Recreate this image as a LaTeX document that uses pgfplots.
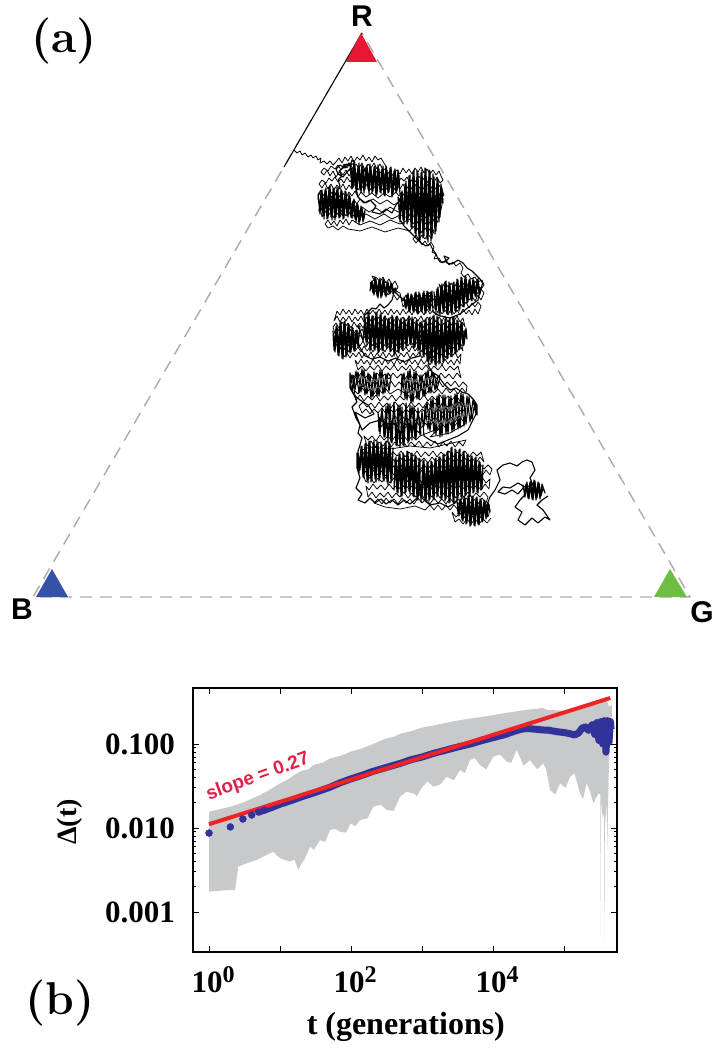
\documentclass[border=0pt]{standalone}
\usepackage{fontspec}
\usepackage{pgfplots}
\pgfplotsset{compat=1.18}
\newfontfamily\timesf{Liberation Serif}
\newfontfamily\arialf{Liberation Sans}
\definecolor{rcol}{RGB}{232,24,52}
\definecolor{bcol}{RGB}{52,82,168}
\definecolor{gcol}{RGB}{110,190,70}
\definecolor{dotblue}{RGB}{50,50,155}
\definecolor{band}{RGB}{200,201,203}
\definecolor{lred}{RGB}{238,36,36}
\definecolor{slopecol}{RGB}{228,30,70}
\definecolor{dashgray}{RGB}{170,170,170}
\begin{document}
\begin{tikzpicture}
\useasboundingbox (0pt,0pt) rectangle (719pt,1050pt);
% ---------------- panel (a) ----------------
\begin{axis}[at={(0pt,0pt)}, anchor=south west, width=719pt, height=1050pt,
  scale only axis, xmin=0, xmax=719, ymin=0, ymax=1050, y dir=reverse,
  hide axis, clip=false]
\addplot[dashgray, line width=1.4pt, dash pattern=on 12pt off 8pt] coordinates {(362,33)(33,597)(690,597)(362,33)};
\addplot[black, line width=1pt] coordinates {(362,33)(284,167)};
% walk, first pass
\addplot[black, line width=0.75pt, line join=round] coordinates {
(294,150)(297,153)(300,151)(302,155)(305,153)(308,157)(311,155)(313,158)(316,156)(318,160)(321,158)(320,163)(324,161)(327,164)(330,161)(333,165)(336,162)
(339,158)(342,163)(345,157)(348,161)(351,156)(354,162)(357,157)(360,160)(363,155)(366,161)(369,157)(372,162)(375,156)(378,160)(381,158)
(384,163)(387,168)(383,170)(380,164)(377,169)(374,163)(371,168)(368,164)(365,170)(362,163)(359,168)(356,164)(353,169)(350,163)(347,168)(344,164)(341,170)(338,165)(335,169)(331,166)(328,171)(324,168)(321,172)
(324,175)(327,170)(330,176)(333,171)(336,177)(340,171)(343,175)(346,170)(349,176)(352,172)(355,177)(358,171)(361,175)(364,170)(367,176)(370,172)(373,177)(376,171)(379,175)(382,170)(385,176)(388,172)(391,177)(394,173)
(397,170)(400,174)(403,168)(406,173)(409,169)(412,174)(415,168)(418,172)(421,167)(424,173)(427,169)(430,174)(433,170)(436,175)(439,171)(441,176)
(443,180)(440,183)(437,177)(434,182)(431,178)(428,183)(425,177)(422,181)(419,176)(416,182)(413,178)(410,183)(407,177)(404,181)(401,178)(398,183)(395,179)(392,183)(389,178)(386,182)(383,177)(380,183)(377,178)(374,182)(371,177)(368,183)(365,178)(362,182)(359,177)(356,183)(353,178)(350,182)(347,177)(344,183)(341,179)(338,182)(335,177)(332,181)(329,178)(326,183)(322,180)(319,184)
(322,188)(325,183)(328,189)(331,184)(334,190)(337,185)(340,189)(343,184)(346,190)(349,185)(352,189)(355,184)(358,190)(361,185)(364,189)(367,184)(370,190)(373,185)(376,189)(379,184)(382,190)(385,186)(388,191)(391,186)(394,190)(397,185)(400,189)(403,184)(406,190)(409,185)(412,189)(415,184)(418,190)(421,185)(424,189)(427,184)(430,190)(433,185)(436,189)(439,185)(442,190)
(444,195)(441,198)(438,192)(435,197)(432,191)(429,196)(426,192)(423,198)(420,193)(417,197)(414,191)(411,196)(408,192)(405,197)(402,192)(399,196)(396,192)(390,197)(384,193)(378,198)(372,193)(366,197)(361,192)(358,197)(355,191)(352,196)(349,192)(346,198)(343,193)(340,197)(337,192)(334,197)(331,192)(328,198)(325,193)(322,197)(319,193)
(318,199)(321,204)(324,198)(327,203)(330,199)(333,205)(336,200)(339,204)(342,198)(345,203)(348,199)(351,205)(354,200)(357,204)(360,199)(366,203)(373,199)(380,204)(387,200)(394,205)(401,200)(404,205)(407,199)(410,204)(413,200)(416,206)(419,201)(422,205)(425,199)(428,204)(431,200)(434,205)(437,200)(440,204)(443,199)
(441,210)(438,205)(435,211)(432,206)(429,210)(426,205)(423,211)(420,206)(417,210)(414,205)(411,211)(408,206)(405,210)(398,212)(390,207)(383,213)(376,208)(369,212)(362,207)(359,212)(356,206)(353,211)(350,205)(347,210)(344,206)(341,212)(338,207)(335,211)(332,205)(329,210)(326,206)(323,212)(320,207)
(322,217)(325,211)(328,216)(331,212)(334,218)(337,213)(340,217)(343,211)(346,216)(349,212)(352,218)(355,213)(358,217)(366,214)(375,219)(384,214)(392,219)(400,215)(408,218)(411,212)(414,217)(417,213)(420,219)(423,214)(426,218)(429,212)(432,217)(435,213)(438,218)(440,214)
(437,223)(434,219)(431,225)(428,220)(425,224)(422,219)(419,225)(416,220)(413,224)(410,219)(400,224)(390,220)(380,225)(370,221)(360,225)(352,220)(349,225)(346,219)(343,224)(340,220)(337,226)(334,221)(331,225)(328,220)(325,224)
(328,228)(333,226)(338,230)(343,226)(348,229)(360,231)(372,227)(385,232)(398,228)(410,231)(413,226)(416,231)(419,227)(422,233)(425,228)(428,232)(431,227)(434,231)
(431,238)(428,234)(425,239)(422,235)(419,240)(416,235)(413,239)(416,243)(419,239)(422,245)(425,241)(428,246)(431,242)
(434,247)(432,252)(436,254)(434,259)(439,258)(442,263)(446,260)(449,265)(453,262)(456,266)(460,263)(463,268)(461,273)(464,277)(468,274)(471,279)(475,277)(478,282)(482,280)(484,285)(481,289)
(478,286)(475,281)(472,287)(469,282)(466,288)(463,283)(460,287)(457,282)(454,288)(451,283)(448,287)(445,282)(442,288)(439,284)
(442,294)(445,289)(448,295)(451,290)(454,294)(457,289)(460,295)(463,290)(466,294)(469,289)(472,295)(475,290)(478,294)(481,289)(484,293)
(481,300)(478,295)(475,301)(472,296)(469,300)(466,295)(463,301)(460,296)(457,300)(454,295)(451,301)(448,296)(445,300)(442,295)(439,301)(436,296)(433,300)(430,295)(427,301)(424,296)(421,300)(418,295)(415,301)(412,296)(409,300)(406,295)(403,301)(400,296)(397,300)(394,295)
(391,291)(388,295)(385,289)(382,294)(379,288)(376,292)(373,287)(370,283)(374,280)(372,276)(377,278)(380,282)(383,277)(386,283)(389,279)(392,285)(395,281)(398,287)(396,291)(400,293)
(403,307)(406,302)(409,308)(412,303)(415,307)(418,302)(421,308)(424,303)(427,307)(430,302)(433,308)(436,303)(439,307)(442,302)(445,308)(448,303)(451,307)(454,302)(457,308)(460,303)(463,307)(466,302)(469,308)(472,303)(475,307)(478,302)(481,306)
(478,314)(475,309)(472,315)(469,310)(466,314)(463,309)(460,315)(457,310)(454,314)(451,309)(448,315)(445,310)(442,314)(439,309)(436,315)(433,310)(430,314)(427,309)(424,315)(421,310)(418,314)(415,309)(412,315)(409,310)(406,314)(403,309)(400,315)(397,310)(394,314)(391,309)(388,315)(385,310)(382,314)(379,309)(376,315)(373,310)(370,314)(367,309)(364,315)(361,310)(358,314)(355,309)(352,315)(349,310)(346,314)(343,309)(340,315)(337,311)
(334,321)(337,316)(340,322)(343,317)(346,321)(349,316)(352,322)(355,317)(358,321)(361,316)(364,322)(367,317)(370,321)(373,316)(376,322)(379,317)(382,321)(385,316)(388,322)(391,317)(394,321)(397,316)(400,322)(403,317)(406,321)(409,316)(412,322)(415,317)(418,321)(421,316)(424,322)(427,317)(430,321)(433,316)(436,322)(439,317)(442,321)(445,316)(448,322)(451,317)(454,321)(457,316)(460,322)(463,318)
(465,327)(462,322)(459,328)(456,323)(453,327)(450,322)(447,328)(444,323)(441,327)(438,322)(435,328)(432,323)(429,327)(426,322)(423,328)(420,323)(417,327)(414,322)(411,328)(408,323)(405,327)(402,322)(399,328)(396,323)(393,327)(390,322)(387,328)(384,323)(381,327)(378,322)(375,328)(372,323)(369,327)(366,322)(363,328)(360,323)(357,327)(354,322)(351,328)(348,323)(345,327)(342,322)(339,328)(336,323)(333,327)
(335,334)(338,329)(341,335)(344,330)(347,334)(350,329)(353,335)(356,330)(359,334)(362,329)(365,335)(368,330)(371,334)(374,329)(377,335)(380,330)(383,334)(386,329)(389,335)(392,330)(395,334)(398,329)(401,335)(404,330)(407,334)(410,329)(413,335)(416,330)(419,334)(422,329)(425,335)(428,330)(431,334)(434,329)(437,335)(440,330)(443,334)(446,329)(449,335)(452,330)(455,334)(458,329)(461,335)(464,331)
(465,339)(462,334)(459,340)(456,335)(453,339)(450,334)(447,340)(444,335)(441,339)(438,334)(435,340)(432,335)(429,339)(426,334)(423,340)(420,335)(417,339)(414,334)(411,340)(408,335)(405,339)(402,334)(399,340)(396,335)(393,339)(390,334)(387,340)(384,335)(381,339)(378,334)(375,340)(372,335)(369,339)(366,334)(363,340)(360,335)(357,339)(354,334)(351,340)(348,335)(345,339)(342,334)(339,340)(336,335)(333,339)
(336,346)(339,341)(342,347)(345,342)(348,346)(351,341)(354,347)(357,342)(360,346)(363,341)(366,347)(369,342)(372,346)(375,341)(378,347)(381,342)(384,346)(387,341)(390,347)(393,342)(396,346)(399,341)(402,347)(405,342)(408,346)(411,341)(414,347)(417,342)(420,346)(423,341)(426,347)(429,342)(432,346)(435,341)(438,347)(441,342)(444,346)(447,341)(450,347)(453,342)(456,346)(459,341)(462,346)
(463,351)(460,346)(457,352)(454,347)(451,351)(448,346)(445,352)(442,347)(439,351)(436,346)(433,352)(430,347)(427,351)(424,346)(421,352)(418,347)(415,351)(412,346)(409,352)(406,347)(403,351)(400,346)(397,352)(394,347)(391,351)(388,346)(385,352)(382,347)(379,351)(376,346)(373,352)(370,347)(367,351)(364,346)(361,352)(358,347)(355,351)(352,346)(349,352)(346,347)(343,351)(340,347)
(344,357)(347,353)(350,358)(353,353)(356,357)(359,352)(362,358)(365,353)(368,357)(371,352)(374,358)(377,353)(380,357)(383,352)(386,358)(389,353)(392,357)(395,352)(398,358)(401,353)(404,357)(407,352)(410,358)(413,353)(416,357)(419,352)(422,358)(425,353)(428,357)(431,352)(434,358)(437,353)(440,357)(443,352)(446,358)(449,353)(452,357)(455,352)(458,358)(461,354)
(460,364)(457,359)(454,365)(451,360)(448,364)(445,359)(442,365)(439,360)(436,364)(433,359)(430,365)(427,360)(424,364)(421,359)(418,365)(415,360)(412,364)(409,359)(406,365)(403,360)(400,364)(397,359)(394,365)(391,360)(388,364)(385,359)(382,365)(379,360)(376,364)(373,359)(370,365)(367,360)(364,364)(361,359)(358,364)(355,360)
(358,370)(362,366)(366,371)(370,366)(374,370)(378,365)(382,371)(386,366)(390,370)(394,365)(398,371)(402,366)(406,370)(410,365)(414,371)(418,366)(422,370)(426,365)(430,371)(434,366)(438,370)(442,365)(446,371)(450,366)(454,370)(458,366)
(461,378)(457,373)(453,379)(449,374)(445,378)(441,373)(437,379)(433,374)(429,378)(425,373)(421,379)(417,374)(413,378)(409,373)(405,379)(401,374)(397,378)(393,373)(389,379)(385,374)(381,378)(377,373)(373,379)(369,374)(365,378)(361,373)(357,379)(353,375)
(355,386)(359,381)(363,387)(367,382)(371,386)(375,381)(379,387)(383,382)(387,386)(391,381)(395,387)(399,382)(403,386)(407,381)(411,387)(415,382)(419,386)(423,381)(427,387)(431,382)(435,386)(439,381)(443,387)(447,382)(451,386)(455,381)(459,387)(463,382)(467,386)
(466,393)(462,388)(458,394)(454,389)(450,393)(446,388)(442,394)(438,389)(434,393)(430,388)(426,394)(422,389)(418,393)(414,388)(406,394)(398,389)(390,394)(386,389)(382,393)(378,388)(374,394)(370,389)(366,393)(362,388)(358,394)(354,390)
(356,400)(360,395)(364,401)(368,396)(372,400)(376,395)(380,401)(384,396)(388,400)(392,395)(396,401)(400,396)(404,400)(408,395)(412,401)(416,396)(420,400)(424,395)(428,401)(432,396)(436,400)(440,395)(444,401)(448,396)(452,400)(456,395)(460,401)(464,397)
(463,407)(459,402)(455,408)(451,403)(447,407)(443,402)(439,408)(435,403)(431,407)(427,402)(423,408)(419,403)(415,407)(411,402)(407,408)(403,403)(399,407)(395,402)(391,408)(387,403)(383,407)(379,402)(375,408)(371,403)(367,407)(363,402)(359,406)
(362,413)(366,409)(370,414)(374,409)(378,413)(382,408)(386,414)(390,409)(394,413)(398,408)(402,414)(406,409)(410,413)(414,408)(418,414)(422,409)(426,413)(430,408)(434,414)(438,409)(442,413)(446,408)(450,414)(454,409)(458,413)(462,409)(466,413)
(463,421)(459,416)(455,422)(451,417)(447,421)(443,416)(439,422)(435,417)(431,421)(427,416)(423,422)(419,417)(415,421)(411,416)(407,422)(403,417)(399,421)(395,416)(391,422)(387,417)(383,421)(379,417)
(381,427)(385,422)(389,428)(393,423)(397,427)(401,422)(405,428)(409,423)(413,427)(417,422)(421,428)(425,423)(429,427)(433,422)(437,428)(441,423)(445,427)(449,422)(453,428)(457,423)(461,427)(465,424)
(450,433)(430,437)(440,428)(420,436)
(416,440)(412,436)(408,441)(404,436)(400,440)(396,435)(392,441)(388,436)(384,440)(380,435)(376,441)(372,436)(368,440)(364,436)
(367,446)(371,441)(375,447)(379,442)(383,446)(387,441)(391,447)(395,442)(399,446)(403,441)(407,447)(411,442)(415,446)(419,441)(423,447)(427,442)(431,446)(435,441)(439,447)(443,442)(447,446)(451,441)(455,447)(459,442)(463,446)(466,440)
(430,448)(410,446)(390,449)(370,447)(362,450)
(365,456)(369,451)(373,457)(377,452)(381,456)(385,451)(389,457)(393,452)(397,456)(401,451)(405,457)(409,452)(413,456)(417,451)(421,457)(425,452)(429,456)(433,451)(437,457)(441,452)(445,456)(449,451)(453,457)(457,452)(461,456)(465,451)(469,457)(473,452)(477,456)(481,452)
(484,462)(480,457)(476,463)(472,458)(468,462)(464,457)(460,463)(456,458)(452,462)(448,457)(444,463)(440,458)(436,462)(432,457)(428,463)(424,458)(420,462)(416,457)(412,463)(408,458)(404,462)(400,457)(396,463)(392,458)(388,462)(384,457)(380,463)(376,458)(372,462)(368,457)(364,463)(361,459)
(364,469)(368,464)(372,470)(376,465)(380,469)(384,464)(388,470)(392,465)(396,469)(400,464)(404,470)(408,465)(412,469)(416,464)(420,470)(424,465)(428,469)(432,464)(436,470)(440,465)(444,469)(448,464)(452,470)(456,465)(460,469)(464,464)(468,470)(472,465)(476,469)(480,464)(484,469)(488,465)(492,469)
(490,475)(486,470)(482,476)(478,471)(474,475)(470,470)(466,476)(462,471)(458,475)(454,470)(450,476)(446,471)(442,475)(438,470)(434,476)(430,471)(426,475)(422,470)(418,476)(414,471)(410,475)(406,470)(402,476)(398,471)(394,475)(390,470)(386,476)(382,471)(378,475)(374,470)(370,476)(366,471)(363,475)
(366,482)(370,477)(374,483)(378,478)(382,482)(386,477)(390,483)(394,478)(398,482)(402,477)(406,483)(410,478)(414,482)(418,477)(422,483)(426,478)(430,482)(434,477)(438,483)(442,478)(446,482)(450,477)(454,483)(458,478)(462,482)(466,477)(470,483)(474,478)(478,482)(482,477)(486,483)(490,479)
(489,489)(485,484)(481,490)(477,485)(473,489)(469,484)(465,490)(461,485)(457,489)(453,484)(449,490)(445,485)(441,489)(437,484)(433,490)(429,485)(425,489)(421,484)(417,490)(413,485)(409,489)(405,484)(401,490)(397,485)(393,489)(389,484)(385,490)(381,485)(377,489)(373,484)(369,490)(366,486)
(368,497)(372,492)(376,498)(380,493)(384,497)(388,492)(392,498)(396,493)(400,497)(404,492)(408,498)(412,493)(416,497)(420,492)(424,498)(428,493)(432,497)(436,492)(440,498)(444,493)(448,497)(452,492)(456,498)(460,493)(464,497)(468,492)(472,498)(476,493)(480,497)(484,492)(488,497)
(486,503)(482,498)(478,504)(474,499)(470,503)(466,498)(462,504)(458,499)(454,503)(450,498)(446,504)(442,499)(438,503)(434,498)(430,504)(426,499)(422,503)(418,498)(414,504)(410,499)(406,503)(402,498)(398,504)(394,499)(390,503)(386,498)(382,504)(378,499)(374,503)
(385,507)(400,509)(415,506)(425,510)(430,505)(434,510)(438,505)(442,510)(446,505)(450,510)(454,505)(458,510)(462,505)(466,511)(470,506)(474,511)(478,506)(482,511)(486,506)(490,510)
(488,517)(484,512)(480,518)(476,513)(472,517)(468,512)(464,518)(460,513)(456,517)(452,512)
(455,522)(459,519)(463,524)(467,519)(471,524)(475,519)(479,524)(483,519)(487,523)(491,518)
};
% walk, dense clusters
\addplot[black, line width=1.1pt, line join=round] coordinates {
(321,190)
(318,195)(320,214)(322,190)(324,219)(326,188)(328,218)(330,186)(332,220)(334,188)(336,217)(338,190)(340,217)(342,191)(344,218)(346,192)(348,217)(350,196)(352,218)(354,199)(356,222)(358,205)(360,221)(362,208)(364,219)
(365,210)(363,222)(361,206)(359,224)(357,203)(355,219)(353,201)(351,217)(349,194)(347,215)(345,191)(343,219)(341,189)(339,218)(337,187)(335,220)(333,189)(331,217)(329,187)(327,219)(325,190)(323,215)(321,192)(319,211)
(324,205)(328,199)(333,196)(337,192)(340,186)(338,180)(342,176)(339,171)(343,168)(346,164)(350,166)(352,160)(355,163)
(350,165)(352,189)(354,161)(356,192)(358,166)(360,190)(362,164)(364,193)(366,167)(368,189)(370,164)(372,193)(374,167)(376,196)(378,165)(380,192)(382,169)(384,195)(386,166)(388,193)(390,168)(392,197)(394,171)(396,193)(398,170)(400,194)
(399,175)(397,191)(395,169)(393,195)(391,167)(389,192)(387,170)(385,196)(383,166)(381,193)(379,169)(377,194)(375,166)(373,191)(371,168)(369,194)(367,165)(365,189)(363,167)(361,193)(359,163)(357,190)(355,166)(353,187)(351,168)
(347,172)(343,177)(338,174)(336,169)(340,165)(345,168)(349,163)(352,170)
(358,197)(364,203)(370,200)(376,206)(372,212)(380,214)(386,209)(392,213)(396,205)(400,200)
(398,197)(400,222)(402,191)(404,224)(406,181)(408,222)(410,175)(412,229)(414,170)(416,236)(418,173)(420,240)(422,170)(424,236)(426,169)(428,242)(430,171)(432,238)(434,177)(436,231)(438,180)(440,217)(442,188)
(443,203)(441,184)(439,222)(437,178)(435,234)(433,174)(431,241)(429,170)(427,239)(425,168)(423,238)(421,173)(419,241)(417,171)(415,233)(413,172)(411,227)(409,176)(407,224)(405,184)(403,220)(401,193)(399,218)
(404,226)(410,232)(416,238)(421,243)(426,246)(430,244)(433,250)(436,254)(438,259)(440,262)(445,262)(449,258)(444,256)(447,263)(452,264)(458,260)(463,263)(467,268)(472,271)(476,275)(480,279)(483,284)
(482,285)(480,294)(478,279)(476,297)(474,281)(472,301)(470,279)(468,302)(466,277)(464,307)(462,278)(460,309)(458,280)(456,312)(454,282)(452,315)(450,284)(448,313)(446,281)(444,312)(442,284)(440,315)(438,287)(436,312)(434,292)
(435,309)(437,289)(439,313)(441,286)(443,311)(445,282)(447,314)(449,282)(451,313)(453,283)(455,311)(457,279)(459,311)(461,277)(463,306)(465,276)(467,303)(469,280)(471,300)(473,278)(475,296)(477,280)(479,293)(481,287)
(478,300)(470,306)(460,314)(450,318)(440,316)(433,312)
(432,291)(430,311)(428,292)(426,313)(424,291)(422,312)(420,294)(418,314)(416,292)(414,312)(412,295)(410,311)(408,293)(406,309)(404,297)
(405,307)(407,295)(409,312)(411,294)(413,311)(415,293)(417,313)(419,292)(421,311)(423,293)(425,313)(427,291)(429,310)(431,292)
(425,296)(418,300)(410,302)(404,300)(399,296)(395,292)
(396,288)(394,293)(392,284)(390,294)(388,282)(386,297)(384,280)(382,296)(380,278)(378,298)(376,279)(374,295)(372,281)(370,291)
(371,283)(373,293)(375,277)(377,296)(379,280)(381,298)(383,279)(385,295)(387,283)(389,293)(391,283)(393,292)(395,288)
(392,300)(388,305)(384,308)(380,304)(376,309)(372,308)(368,312)(364,316)
(364,318)(366,342)(368,314)(370,351)(372,316)(374,349)(376,312)(378,353)(380,315)(382,350)(384,317)(386,347)(388,319)(390,352)(392,315)(394,356)(396,317)(398,352)(400,320)(402,349)(404,318)(406,347)(408,319)(410,344)(412,317)(414,348)(416,321)(418,351)(420,322)
(419,349)(417,320)(415,347)(413,319)(411,345)(409,316)(407,346)(405,320)(403,350)(401,318)(399,353)(397,316)(395,354)(393,317)(391,351)(389,318)(387,349)(385,316)(383,351)(381,313)(379,352)(377,314)(375,350)(373,316)(371,349)(369,313)(367,345)(365,317)(363,341)
(360,330)(357,326)
(360,326)(358,347)(356,331)(354,351)(352,327)(350,353)(348,324)(346,357)(344,322)(342,358)(340,323)(338,355)(336,327)(334,350)
(333,331)(335,352)(337,325)(339,356)(341,322)(343,359)(345,321)(347,355)(349,325)(351,352)(353,328)(355,351)(357,330)(359,346)
(365,356)(372,359)(380,357)(388,361)(396,358)(404,362)(412,358)(420,356)
(420,352)(422,321)(424,357)(426,319)(428,361)(430,317)(432,363)(434,315)(436,366)(438,318)(440,362)(442,321)(444,361)(446,318)(448,358)(450,319)(452,356)(454,317)(456,353)(458,321)(460,349)(462,323)(464,345)(466,328)
(467,339)(465,330)(463,346)(461,322)(459,350)(457,320)(455,354)(453,318)(451,357)(449,320)(447,359)(445,319)(443,362)(441,320)(439,364)(437,316)(435,364)(433,317)(431,362)(429,318)(427,360)(425,320)(423,355)(421,323)
(425,340)(430,355)(428,365)(432,372)
(440,377)(437,389)(434,373)(431,393)(428,370)(425,396)(422,375)(419,399)(416,371)(413,402)(410,369)(407,400)(404,373)(401,395)
(402,374)(405,398)(408,371)(411,403)(414,372)(417,399)(420,375)(423,396)(426,372)(429,393)(432,371)(435,390)(438,376)
(444,384)(450,390)(456,388)(462,392)(468,394)(474,400)(477,405)
(477,415)(475,402)(472,419)(469,397)(466,424)(463,394)(460,428)(457,393)(454,431)(451,396)(448,434)(445,395)(442,436)(439,394)(436,435)(433,398)(430,431)(427,402)(424,426)
(425,406)(428,429)(431,399)(434,433)(437,396)(440,437)(443,395)(446,434)(449,397)(452,432)(455,394)(458,429)(461,393)(464,426)(467,396)(470,422)(473,400)(476,414)
(468,430)(458,436)(448,440)(438,444)(430,440)(424,436)
(422,411)(420,435)(418,408)(416,439)(414,407)(412,440)(410,405)(408,443)(406,404)(404,446)(402,407)(400,447)(398,405)(396,445)(394,402)(392,443)(390,404)(388,441)(386,406)(384,437)(382,408)(380,434)(378,412)
(379,431)(382,409)(385,437)(388,404)(391,442)(394,403)(397,446)(400,405)(403,445)(406,403)(409,441)(412,406)(415,438)(418,409)(421,434)
(410,426)(400,422)(390,425)(380,420)(370,423)(362,430)(355,412)(365,418)(374,414)
(368,405)(360,400)(354,395)(350,388)
(350,373)(353,389)(356,371)(359,393)(362,369)(365,395)(368,373)(371,398)(374,372)(377,396)(380,370)(383,394)(386,374)(389,391)(391,377)
(388,373)(385,393)(382,371)(379,396)(376,373)(373,397)(370,375)(367,394)(364,370)(361,392)(358,372)(355,390)(352,375)(350,384)
(354,395)(357,402)(352,407)(356,418)(360,425)(358,433)(362,438)(360,445)
(358,451)(360,470)(362,446)(364,478)(366,443)(368,483)(370,442)(372,480)(374,440)(376,482)(378,443)(380,478)(382,445)(384,481)(386,441)(388,485)(390,444)(392,480)
(393,448)(391,483)(389,442)(387,482)(385,443)(383,479)(381,442)(379,481)(377,441)(375,479)(373,443)(371,482)(369,441)(367,480)(365,444)(363,477)(361,447)(359,473)(357,453)
(357,468)(360,478)(356,488)(362,494)(358,500)(365,503)(370,498)(375,503)(381,499)(386,504)(392,500)(398,505)(404,500)(410,504)(416,499)(420,494)
(420,459)(418,500)(416,456)(414,497)(412,453)(410,494)(408,452)(406,492)(404,455)(402,496)(400,454)(398,493)(396,457)(394,490)
(395,459)(397,492)(399,455)(401,496)(403,453)(405,493)(407,451)(409,491)(411,454)(413,496)(415,455)(417,499)(419,458)(421,502)(423,461)(425,500)(427,463)(429,501)(431,461)(433,498)(435,459)(437,497)(439,457)(441,499)(443,455)(445,501)(447,452)(449,503)(451,448)(453,502)(455,449)(457,500)(459,450)(461,497)(463,452)(465,496)(467,455)(469,494)(471,456)(473,493)(475,458)(477,492)(479,461)(481,490)(483,465)
(482,489)(480,462)(478,493)(476,457)(474,492)(472,456)(470,496)(468,454)(466,495)(464,451)(462,499)(460,449)(458,498)(456,450)(454,503)(452,447)(450,502)(448,451)(446,499)(444,454)(442,498)(440,457)(438,495)(436,458)(434,500)(432,462)(430,499)(428,462)(426,502)(424,460)(422,498)
(430,505)(440,503)(448,507)(455,503)(457,500)
(458,514)(460,499)(462,520)(464,497)(466,524)(468,496)(470,526)(472,496)(474,525)(476,498)(478,524)(480,499)(482,522)(484,500)(486,519)(488,502)(490,512)
(489,504)(487,517)(485,501)(483,521)(481,499)(479,525)(477,497)(475,526)(473,497)(471,525)(469,495)(467,523)(465,498)(463,521)(461,499)(459,516)(457,502)
(462,508)(470,511)(478,509)(486,507)(490,497)(495,490)(500,480)(497,470)(503,465)(510,463)(517,466)(522,462)(527,460)(532,462)(535,470)(530,478)(533,485)(525,487)(518,483)(510,488)(503,487)(498,492)(505,494)(512,490)(518,494)(523,488)
(523,485)(525,497)(527,482)(529,499)(531,480)(533,500)(535,481)(537,498)(539,483)(541,496)(543,488)(545,493)(542,484)(540,499)(538,482)(536,500)(534,480)(532,499)(530,482)(528,498)(526,484)(524,496)
(520,500)(515,507)(522,512)(518,520)(525,525)(532,518)(538,523)(545,517)(550,520)(543,510)(537,505)(542,500)(548,496)
};
\addplot[fill=rcol, draw=none] coordinates {(346,62)(377,62)(361,33)(346,62)};
\addplot[fill=bcol, draw=none] coordinates {(36,597)(68,597)(52,569)(36,597)};
\addplot[fill=gcol, draw=none] coordinates {(654,597)(687,597)(670,569)(654,597)};
\end{axis}
\node[font=\arialf\bfseries\fontsize{30}{36}\selectfont, inner sep=0pt] at (362pt,1034pt) {R};
\node[font=\arialf\bfseries\fontsize{30}{36}\selectfont, inner sep=0pt] at (22pt,441pt) {B};
\node[font=\arialf\bfseries\fontsize{30}{36}\selectfont, inner sep=0pt] at (702pt,438pt) {G};
\node[font=\bfseries\fontsize{46}{56}\selectfont, inner sep=0pt] at (64pt,1009pt) {(a)};
\node[font=\bfseries\fontsize{46}{56}\selectfont, inner sep=0pt] at (60pt,46.5pt) {(b)};
% ---------------- panel (b) ----------------
\begin{axis}[at={(193pt,98pt)}, anchor=south west, width=424pt, height=264pt,
  scale only axis, xmode=log, ymode=log,
  xmin=0.595, xmax=5.57e5, ymin=3.34e-4, ymax=0.4642,
  axis line style={line width=1.8pt},
  every tick/.style={line width=1pt, black},
  major tick length=6pt, minor tick length=3pt,
  xtick={1,10,100,1000,10000,100000},
  xticklabels={10\raisebox{10pt}{\fontsize{24}{24}\selectfont 0},{},10\raisebox{10pt}{\fontsize{24}{24}\selectfont 2},{},10\raisebox{10pt}{\fontsize{24}{24}\selectfont 4},{}},
  xminorticks=false,
  ytick={0.001,0.01,0.1}, yticklabels={0.001,0.010,0.100},
  tick label style={font=\timesf\bfseries\fontsize{31}{36}\selectfont},
  xticklabel style={inner sep=0pt, anchor=north, yshift=-14pt, xshift=4pt},
  yticklabel style={inner sep=0pt, anchor=east, xshift=-18pt},
  every axis x label/.style={at={(axis description cs:0.502,-0.284)}, anchor=center},
  every axis y label/.style={at={(axis description cs:-0.290,0.492)}, anchor=center, rotate=90},
  xlabel={\timesf\bfseries\fontsize{32}{38}\selectfont t (generations)},
  ylabel={\timesf\bfseries\fontsize{28}{34}\selectfont Δ(t)},
  axis on top]
\addplot[fill=band, draw=none] coordinates {
(1,0.0156)(1.98,0.0179)(3.0,0.0200)(5.0,0.0243)(7.0,0.0282)(10,0.034)(13,0.038)(16,0.043)(20,0.0478)(25,0.050)(30,0.0566)(40,0.060)(50,0.0671)(70,0.072)(100,0.0813)(140,0.088)(200,0.099)(300,0.115)(400,0.122)(500,0.133)(700,0.142)(1000,0.157)(1400,0.165)(2000,0.176)(3000,0.189)(5000,0.202)(7000,0.21)(1e4,0.221)(1.4e4,0.232)(2e4,0.243)(3e4,0.256)(4e4,0.262)(5e4,0.269)(6e4,0.253)(8e4,0.252)(1e5,0.249)(1.3e5,0.262)(1.7e5,0.274)(2.3e5,0.291)(2.8e5,0.30)(3.2e5,0.305)(3.6e5,0.32)(4e5,0.334)(4.3e5,0.28)(4.7e5,0.291)
(4.7e5,0.211)(4.35e5,0.102)(4.05e5,0.0055)(4.0e5,0.02)(3.75e5,0.01)(3.7e5,0.00042)(3.65e5,0.015)(3.5e5,0.0136)(3.31e5,0.02)(3.28e5,0.00046)(3.25e5,0.025)(3.05e5,0.0259)(2.59e5,0.0197)(2.3e5,0.028)(2.08e5,0.034)(1.85e5,0.022)(1.68e5,0.0259)(1.4e5,0.045)(1.22e5,0.0408)(1.05e5,0.03)(8.8e4,0.034)(7.5e4,0.025)(6.35e4,0.0283)(5.6e4,0.05)(5.1e4,0.0589)(4.2e4,0.05)(3.3e4,0.0645)(2.7e4,0.055)(2.15e4,0.0849)(1.8e4,0.06)(1.56e4,0.0616)(1.25e4,0.075)(1.01e4,0.0706)(8000,0.05)(6560,0.0562)(5500,0.068)(4740,0.0645)(4000,0.045)(3430,0.049)(2800,0.037)(2220,0.0408)(1800,0.033)(1445,0.031)(1200,0.036)(1010,0.031)(850,0.024)(755,0.0259)(600,0.027)(490,0.0236)(400,0.016)(318,0.0164)(260,0.019)(207,0.01795)(170,0.013)(134,0.01245)(115,0.0105)(99,0.01137)(85,0.0088)(70,0.00904)(60,0.0098)(50.6,0.00946)(43,0.0068)(36.6,0.0072)(30,0.0055)(26.5,0.006)(22,0.0042)(20.2,0.0038)(18.1,0.00316)(16,0.0042)(13.8,0.00398)(10,0.00436)(8.05,0.00523)(6.49,0.00478)(4.7,0.00416)(3.4,0.0038)(2.59,0.00347)(2.32,0.00183)(1.98,0.00183)(1,0.00175)(1,0.0156)
};
\addplot[dotblue, line width=7pt, line join=round] coordinates {
(5,0.0155)(6,0.0163)(7,0.0171)(8,0.0178)(10,0.0192)(15,0.0215)(20,0.0235)(30,0.0262)(50,0.0305)(70,0.0345)(100,0.0385)(150,0.043)(200,0.047)(300,0.052)(500,0.059)(700,0.065)(1000,0.070)(1500,0.078)(2000,0.083)(3000,0.091)(5000,0.101)(7000,0.110)(1e4,0.119)(1.5e4,0.13)(2e4,0.142)(2.5e4,0.15)(3e4,0.153)(4e4,0.15)(5e4,0.147)(6e4,0.146)(8e4,0.14)(1e5,0.137)(1.2e5,0.133)(1.4e5,0.128)(1.6e5,0.135)(1.8e5,0.155)(2e5,0.16)(2.2e5,0.145)(2.5e5,0.17)(2.7e5,0.13)(2.9e5,0.18)(3.1e5,0.11)(3.3e5,0.185)(3.5e5,0.1)(3.7e5,0.19)(3.9e5,0.08)(4.1e5,0.19)(4.3e5,0.105)(4.5e5,0.185)(4.6e5,0.15)
};
\addplot[only marks, mark=*, mark size=3.5pt, dotblue] coordinates {(1,0.0087)(2,0.0103)(3,0.0128)(4,0.0143)(5,0.0155)(6,0.0163)};
\addplot[lred, line width=4pt] coordinates {(1,0.0111)(4.47e5,0.353)};
\end{axis}
\node[font=\arialf\bfseries\fontsize{19}{22}\selectfont, text=slopecol, rotate=20, inner sep=0pt] at (258pt,273pt) {slope = 0.27};
\end{tikzpicture}
\end{document}
